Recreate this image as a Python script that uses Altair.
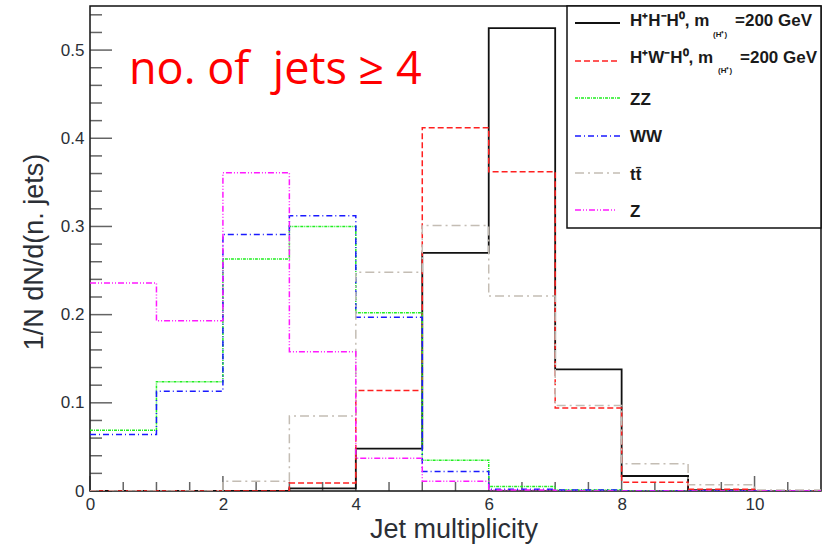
import altair as alt
import pandas as pd

# Normalised jet-multiplicity distributions, one value per unit-width bin [n, n+1)
bin_lo = [0, 1, 2, 3, 4, 5, 6, 7, 8, 9, 10]
x_max = 11

hhh_200 = [0, 0, 0, 0.003, 0.048, 0.270, 0.525, 0.138, 0.017, 0.001, 0]
hwh_200 = [0, 0, 0, 0.009, 0.114, 0.412, 0.362, 0.094, 0.010, 0.002, 0]
zz = [0.069, 0.124, 0.263, 0.300, 0.202, 0.035, 0.005, 0.001, 0, 0, 0]
ww = [0.064, 0.113, 0.291, 0.312, 0.197, 0.022, 0.002, 0.001, 0, 0, 0]
ttbar = [0, 0, 0.011, 0.085, 0.248, 0.301, 0.221, 0.097, 0.031, 0.007, 0.001]
z_jets = [0.236, 0.193, 0.361, 0.158, 0.037, 0.011, 0.001, 0, 0, 0, 0]

# axis ticks and labels
x_labels = [0, 2, 4, 6, 8, 10]
x_minor = [0.5, 1, 1.5, 2.5, 3, 3.5, 4.5, 5, 5.5, 6.5, 7, 7.5, 8.5, 9, 9.5, 10.5]
y_labels = [0, 0.1, 0.2, 0.3, 0.4, 0.5]
y_minor = [0.02, 0.04, 0.06, 0.08, 0.12, 0.14, 0.16, 0.18, 0.22, 0.24, 0.26, 0.28,
           0.32, 0.34, 0.36, 0.38, 0.42, 0.44, 0.46, 0.48, 0.52, 0.54]

W, H = 731, 485
FONT = "Liberation Sans"
INK = "#2b2f36"

series = [
    # name, values, colour, dash, width
    ("hhh", hhh_200, "#111111", [1, 0], 1.8),
    ("hwh", hwh_200, "#ff2020", [6, 3], 1.5),
    ("zz", zz, "#22ee22", [3, 1, 1, 1], 1.5),
    ("ww", ww, "#1a1aff", [6, 3, 1, 3], 1.5),
    ("tt", ttbar, "#c4bdb4", [9, 4, 2, 4], 1.5),
    ("z", z_jets, "#ff19ff", [6, 2, 1, 2, 1, 2], 1.5),
]

x_enc = alt.X(
    "x:Q",
    scale=alt.Scale(domain=[0, x_max], nice=False, zero=False),
    axis=alt.Axis(
        values=x_labels, format="d", ticks=False, domain=False, grid=False,
        labelFont=FONT, labelFontSize=17, labelColor=INK, labelPadding=5,
        labelFlush=False,
        title="Jet multiplicity", titleFont=FONT, titleFontSize=27,
        titleFontWeight="normal", titleColor=INK,
        titleBaseline="alphabetic", titleY=46, titleX=W / 2 - 2,
    ),
)
y_enc = alt.Y(
    "y:Q",
    scale=alt.Scale(domain=[0, 0.55], nice=False, zero=True),
    axis=alt.Axis(
        values=y_labels, ticks=False, domain=False, grid=False,
        labelExpr="datum.value == 0 ? '0' : format(datum.value, '.1f')",
        labelFont=FONT, labelFontSize=17, labelColor=INK, labelPadding=6,
        labelFlush=False,
        title="1/N dN/d(n. jets)", titleFont=FONT, titleFontSize=27,
        titleFontWeight="normal", titleColor=INK,
        titleBaseline="alphabetic", titleX=-48, titleY=H / 2 + 3,
    ),
)

layers = []

# inward-pointing tick marks along the bottom and left edges
tick_col = "#222222"
layers.append(alt.Chart(pd.DataFrame({"x": x_labels})).mark_tick(
    color=tick_col, thickness=1.5, size=15, orient="vertical").encode(
    x=x_enc, y=alt.value(H - 7.5)))
layers.append(alt.Chart(pd.DataFrame({"x": x_minor})).mark_tick(
    color=tick_col, thickness=1.5, size=9, orient="vertical").encode(
    x=x_enc, y=alt.value(H - 4.5)))
layers.append(alt.Chart(pd.DataFrame({"y": y_labels})).mark_tick(
    color=tick_col, thickness=1.5, size=22, orient="horizontal").encode(
    y=y_enc, x=alt.value(11)))
layers.append(alt.Chart(pd.DataFrame({"y": y_minor})).mark_tick(
    color=tick_col, thickness=1.5, size=12, orient="horizontal").encode(
    y=y_enc, x=alt.value(6)))

# histogram outlines drawn as steps
for name, vals, col, dash, sw in series:
    df = pd.DataFrame({"x": bin_lo + [x_max], "y": vals + [vals[-1]]})
    layers.append(
        alt.Chart(df).mark_line(
            interpolate="step-after", color=col, strokeDash=dash,
            strokeWidth=sw, clip=True,
        ).encode(x=x_enc, y=y_enc)
    )

# selection label (non-breaking space keeps the double gap)
layers.append(
    alt.Chart(pd.DataFrame({"t": ["no. of \u00a0jets ≥ 4"]})).mark_text(
        font="Open Sans", fontSize=45, color="#ff0000", align="left",
        baseline="alphabetic",
    ).encode(text="t:N", x=alt.value(39), y=alt.value(78))
)

# legend box
legend_left = 477
layers.append(
    alt.Chart(pd.DataFrame({"a": [0]})).mark_rect(
        fill="white", stroke="#111111", strokeWidth=1.5,
    ).encode(x=alt.value(legend_left), x2=alt.value(W), y=alt.value(0), y2=alt.value(222))
)

legend_rows = [17, 55, 92, 130, 167, 204]
legend_main = ["H⁺H⁻H⁰, m", "H⁺W⁻H⁰, m", "ZZ", "WW", "tt̄", "Z"]
text_drop = [3, 2, 7, 6, 7, 7]
sample_end = [530, 530, 530, 530, 530, 525]
for (name, vals, col, dash, sw), ry, txt, dy, se in zip(
        series, legend_rows, legend_main, text_drop, sample_end):
    layers.append(
        alt.Chart(pd.DataFrame({"a": [0]})).mark_rule(
            color=col, strokeDash=dash, strokeWidth=sw,
        ).encode(x=alt.value(485), x2=alt.value(se), y=alt.value(ry))
    )
    layers.append(
        alt.Chart(pd.DataFrame({"t": [txt]})).mark_text(
            font=FONT, fontSize=17, fontWeight="bold", color="#1a1a1a",
            align="left", baseline="alphabetic",
        ).encode(text="t:N", x=alt.value(540), y=alt.value(ry + dy))
    )

# mass subscripts and values for the two signal entries
for ry, dy, sub_dy, sub_x, val_x in [(17, 3, 14, 623, 645), (55, 2, 12, 628, 650)]:
    layers.append(
        alt.Chart(pd.DataFrame({"t": ["(H⁺)"]})).mark_text(
            font=FONT, fontSize=8, fontWeight="bold", color="#1a1a1a",
            align="left", baseline="alphabetic",
        ).encode(text="t:N", x=alt.value(sub_x), y=alt.value(ry + sub_dy))
    )
    layers.append(
        alt.Chart(pd.DataFrame({"t": ["=200 GeV"]})).mark_text(
            font=FONT, fontSize=17, fontWeight="bold", color="#1a1a1a",
            align="left", baseline="alphabetic",
        ).encode(text="t:N", x=alt.value(val_x), y=alt.value(ry + dy))
    )

chart = alt.layer(*layers).properties(
    width=W, height=H,
    autosize=alt.AutoSizeParams(type="none"),
    padding={"left": 90, "top": 6, "right": 11, "bottom": 55},
    background="white",
).configure_view(stroke="#111111", strokeWidth=1.5)

chart.save("out.html", embed_options={"renderer": "svg", "actions": False})
